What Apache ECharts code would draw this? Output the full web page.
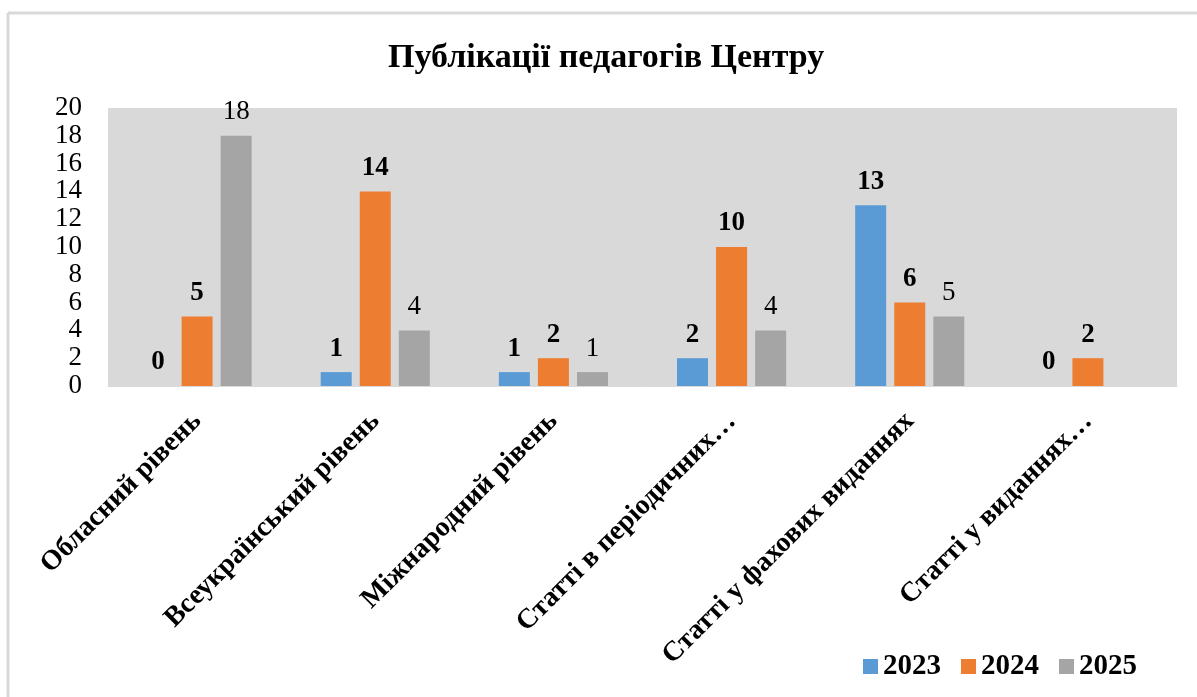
<!DOCTYPE html>
<html>
<head>
<meta charset="utf-8">
<script src="https://cdn.jsdelivr.net/npm/echarts@6/dist/echarts.min.js"></script>
<style>
  html, body { margin: 0; padding: 0; background: #fff; }
  #chart { width: 1197px; height: 697px; }
</style>
</head>
<body>
<div id="chart"></div>
<script>
// категорії та дані
const categories = [
  'Обласний рівень',
  'Всеукраїнський рівень',
  'Міжнародний рівень',
  'Статті в періодичних…',
  'Статті у фахових виданнях',
  'Статті у виданнях…'
]
const years = ['2023', '2024', '2025']
const data2023 = [0, 1, 1, 2, 13, 0]
const data2024 = [5, 14, 2, 10, 6, 2]
const data2025 = [18, 4, 1, 4, 5, null]
const yTicks = { min: 0, max: 20, step: 2 }

const colors = ['#5b9bd5', '#ed7d31', '#a5a5a5']
const font = '"Liberation Serif", "Times New Roman", serif'

const makeSeries = (name, values, color, bold) => ({
  name: name,
  type: 'bar',
  data: values,
  barWidth: 31,
  barGap: '26%',
  itemStyle: { color: color },
  label: {
    show: true,
    position: 'top',
    distance: 10,
    color: '#000',
    fontFamily: font,
    fontSize: 27,
    fontWeight: bold ? 'bold' : 'normal'
  }
})

const chart = echarts.init(document.getElementById('chart'))
chart.setOption({
  animation: false,
  textStyle: { fontFamily: font },
  title: {
    text: 'Публікації педагогів Центру',
    left: 383,
    top: 36,
    textStyle: { fontFamily: font, fontSize: 34, fontWeight: 'bold', color: '#000' }
  },
  legend: {
    right: 55,
    top: 647,
    itemWidth: 15,
    itemHeight: 15,
    itemGap: 20,
    icon: 'rect',
    textStyle: { fontFamily: font, fontSize: 29, fontWeight: 'bold', color: '#000' },
    data: years
  },
  grid: {
    left: 108,
    right: 20,
    top: 108,
    bottom: 311,
    show: true,
    backgroundColor: '#d9d9d9',
    borderWidth: 0
  },
  xAxis: {
    type: 'category',
    data: categories,
    axisLine: { show: true, lineStyle: { color: '#d9d9d9' } },
    axisTick: { show: false },
    axisLabel: {
      interval: 0,
      rotate: 45,
      margin: 31,
      fontFamily: font,
      fontSize: 28,
      fontWeight: 'bold',
      color: '#000'
    }
  },
  yAxis: {
    type: 'value',
    min: yTicks.min,
    max: yTicks.max,
    interval: yTicks.step,
    splitLine: { show: false },
    axisLine: { show: false },
    axisTick: { show: false },
    axisLabel: {
      margin: 26,
      showMinLabel: true,
      showMaxLabel: true,
      hideOverlap: false,
      fontFamily: font,
      fontSize: 27,
      color: '#000'
    }
  },
  graphic: [
    { type: 'line', shape: { x1: 8, y1: 13, x2: 8, y2: 697 }, style: { stroke: '#d9d9d9', lineWidth: 3 } },
    { type: 'line', shape: { x1: 8, y1: 13, x2: 1197, y2: 13 }, style: { stroke: '#d9d9d9', lineWidth: 3 } }
  ],
  series: [
    makeSeries(years[0], data2023, colors[0], true),
    makeSeries(years[1], data2024, colors[1], true),
    makeSeries(years[2], data2025, colors[2], false)
  ]
})
</script>
</body>
</html>
